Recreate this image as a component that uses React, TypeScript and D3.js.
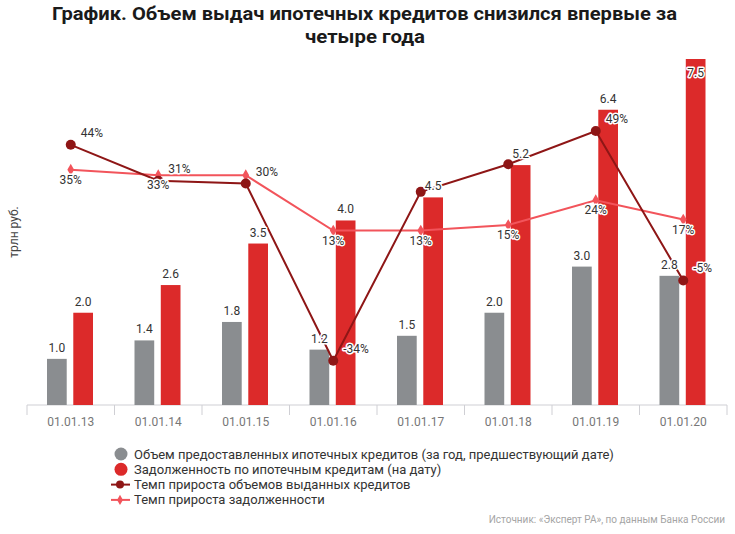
import React, { useEffect, useRef } from "react";
import * as d3 from "d3";

// chart data
const dates = ["01.01.13", "01.01.14", "01.01.15", "01.01.16", "01.01.17", "01.01.18", "01.01.19", "01.01.20"];
const issued = [1.0, 1.4, 1.8, 1.2, 1.5, 2.0, 3.0, 2.8];
const debt = [2.0, 2.6, 3.5, 4.0, 4.5, 5.2, 6.4, 7.5];
const issuedGrowth = [44, 31, 30, -34, 27, 37, 49, -5];
const debtGrowth = [35, 33, 33, 13, 13, 15, 24, 17];
const issuedGrowthLabels = ["44%", "31%", "30%", "-34%", "", "", "49%", "-5%"];
const debtGrowthLabels = ["35%", "33%", "", "13%", "13%", "15%", "24%", "17%"];
const legendItems = [
  "Объем предоставленных ипотечных кредитов (за год, предшествующий дате)",
  "Задолженность по ипотечным кредитам (на дату)",
  "Темп прироста объемов выданных кредитов",
  "Темп прироста задолженности",
];

const GRAY = "#8a8d90";
const RED = "#dc2a2a";
const DARK = "#8e1616";
const LIGHT = "#f2545b";
const FONT = "Roboto, 'Noto Sans', sans-serif";

const App = () => {
  const svgRef = useRef<SVGSVGElement | null>(null);

  useEffect(() => {
    const width = 735;
    const height = 534;
    const top = 59;
    const bottom = 405;
    const left = 27;
    const right = 727;

    const svg = d3.select(svgRef.current);
    svg.selectAll("*").remove();
    svg.attr("width", width).attr("height", height);

    svg.append("rect").attr("width", width).attr("height", height).attr("fill", "white");

    // title
    const title = svg.append("g").attr("font-family", FONT).attr("font-weight", 700).attr("fill", "#1a1a1a");
    title
      .append("text")
      .attr("x", 52)
      .attr("y", 20)
      .attr("font-size", 18)
      .attr("textLength", 625)
      .attr("lengthAdjust", "spacingAndGlyphs")
      .text("График. Объем выдач ипотечных кредитов снизился впервые за");
    title
      .append("text")
      .attr("x", 305)
      .attr("y", 43)
      .attr("font-size", 18)
      .attr("textLength", 120)
      .attr("lengthAdjust", "spacingAndGlyphs")
      .text("четыре года");

    const x = d3.scaleBand<string>().domain(dates).range([left, right]);
    const sub = d3.scaleBand<string>().domain(["issued", "debt"]).range([20, 66]).paddingInner(0.25);
    const y = d3.scaleLinear().domain([0, 7.5]).range([bottom, top]);
    const yPct = d3.scaleLinear().domain([-50, 75]).range([bottom, top]);
    const cx = (d: string) => x(d)! + x.bandwidth() / 2;

    // y label
    svg
      .append("text")
      .attr("transform", `translate(18,232) rotate(-90)`)
      .attr("text-anchor", "middle")
      .attr("font-family", FONT)
      .attr("font-size", 12)
      .attr("fill", "#444")
      .text("трлн руб.");

    // axis
    const axis = svg.append("g");
    axis.append("line").attr("x1", left).attr("x2", right).attr("y1", bottom).attr("y2", bottom).attr("stroke", "#cfcfd4");
    const bounds = [...dates.map((d) => x(d)!), right];
    axis
      .selectAll("line.tick")
      .data(bounds)
      .join("line")
      .attr("class", "tick")
      .attr("x1", (d) => d)
      .attr("x2", (d) => d)
      .attr("y1", bottom)
      .attr("y2", bottom + 10)
      .attr("stroke", "#cfcfd4");
    axis
      .selectAll("text")
      .data(dates)
      .join("text")
      .attr("x", (d) => cx(d))
      .attr("y", bottom + 21)
      .attr("text-anchor", "middle")
      .attr("font-family", FONT)
      .attr("font-size", 12)
      .attr("fill", "#777")
      .text((d) => d);

    // bars
    svg
      .append("g")
      .selectAll("rect")
      .data(dates)
      .join("rect")
      .attr("x", (d) => x(d)! + sub("issued")!)
      .attr("width", sub.bandwidth())
      .attr("y", (_, i) => y(issued[i]))
      .attr("height", (_, i) => bottom - y(issued[i]))
      .attr("fill", GRAY);
    svg
      .append("g")
      .selectAll("rect")
      .data(dates)
      .join("rect")
      .attr("x", (d) => x(d)! + sub("debt")!)
      .attr("width", sub.bandwidth())
      .attr("y", (_, i) => y(debt[i]))
      .attr("height", (_, i) => bottom - y(debt[i]))
      .attr("fill", RED);

    // lines
    const line = d3
      .line<number>()
      .x((_, i) => cx(dates[i]))
      .y((d) => yPct(d));

    svg.append("path").attr("d", line(debtGrowth)).attr("fill", "none").attr("stroke", LIGHT).attr("stroke-width", 2);
    svg
      .append("g")
      .selectAll("path")
      .data(debtGrowth)
      .join("path")
      .attr("d", d3.symbol(d3.symbolDiamond, 40)())
      .attr("transform", (d, i) => `translate(${cx(dates[i])},${yPct(d)})`)
      .attr("fill", LIGHT);

    svg.append("path").attr("d", line(issuedGrowth)).attr("fill", "none").attr("stroke", DARK).attr("stroke-width", 2);
    svg
      .append("g")
      .selectAll("circle")
      .data(issuedGrowth)
      .join("circle")
      .attr("cx", (_, i) => cx(dates[i]))
      .attr("cy", (d) => yPct(d))
      .attr("r", 5)
      .attr("fill", DARK);

    // labels
    const labels = svg
      .append("g")
      .attr("font-family", FONT)
      .attr("font-size", 12)
      .attr("fill", "#333")
      .attr("stroke", "white")
      .attr("stroke-width", 3)
      .attr("paint-order", "stroke")
      .attr("stroke-linejoin", "round");

    const barLabel = (vals: number[], key: string) =>
      labels
        .append("g")
        .selectAll("text")
        .data(vals)
        .join("text")
        .attr("x", (_, i) => x(dates[i])! + sub(key)! + sub.bandwidth() / 2)
        .attr("y", (d) => (y(d) - 7 < top + 8 ? y(d) + 18 : y(d) - 7))
        .attr("text-anchor", "middle")
        .text((d) => d.toFixed(1));
    barLabel(issued, "issued");
    barLabel(debt, "debt");

    labels
      .append("g")
      .selectAll("text")
      .data(debtGrowth)
      .join("text")
      .attr("x", (_, i) => cx(dates[i]))
      .attr("y", (d) => yPct(d) + 14)
      .attr("text-anchor", "middle")
      .text((_, i) => debtGrowthLabels[i]);

    labels
      .append("g")
      .selectAll("text")
      .data(issuedGrowth)
      .join("text")
      .attr("x", (_, i) => cx(dates[i]) + 10)
      .attr("y", (d) => yPct(d) - 8)
      .attr("text-anchor", "start")
      .text((_, i) => issuedGrowthLabels[i]);

    // legend
    const legend = svg.append("g").attr("font-family", FONT).attr("font-size", 13).attr("fill", "#333");
    const rowY = (i: number) => 454 + i * 15.3;
    legend.append("circle").attr("cx", 121).attr("cy", rowY(0)).attr("r", 6.5).attr("fill", GRAY);
    legend.append("circle").attr("cx", 121).attr("cy", rowY(1)).attr("r", 6.5).attr("fill", RED);
    legend.append("line").attr("x1", 111).attr("x2", 130).attr("y1", rowY(2)).attr("y2", rowY(2)).attr("stroke", DARK).attr("stroke-width", 2);
    legend.append("circle").attr("cx", 120).attr("cy", rowY(2)).attr("r", 4).attr("fill", DARK);
    legend.append("line").attr("x1", 111).attr("x2", 130).attr("y1", rowY(3)).attr("y2", rowY(3)).attr("stroke", LIGHT).attr("stroke-width", 2);
    legend
      .append("path")
      .attr("d", d3.symbol(d3.symbolDiamond, 30)())
      .attr("transform", `translate(120,${rowY(3)})`)
      .attr("fill", LIGHT);
    legend
      .selectAll("text")
      .data(legendItems)
      .join("text")
      .attr("x", 134)
      .attr("y", (_, i) => rowY(i) + 4.5)
      .text((d) => d);

    // source
    svg
      .append("text")
      .attr("x", 725)
      .attr("y", 523)
      .attr("text-anchor", "end")
      .attr("font-family", FONT)
      .attr("font-size", 10)
      .attr("fill", "#a5a5a5")
      .text("Источник: «Эксперт РА», по данным Банка России");
  }, []);

  return <svg ref={svgRef} style={{ position: "absolute", left: 0, top: 0 }}></svg>;
};

export default App;
